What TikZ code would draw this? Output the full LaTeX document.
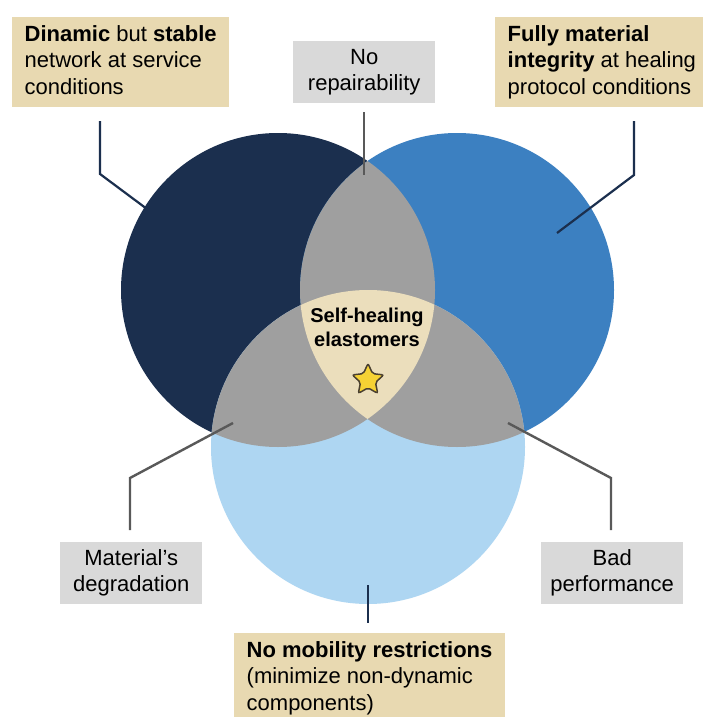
\documentclass[tikz,border=0pt]{standalone}
\usepackage{fontspec}
\setmainfont{Liberation Sans}
\usetikzlibrary{shapes.geometric}
\definecolor{navy}{HTML}{1B2F4E}
\definecolor{midblue}{HTML}{3C80C1}
\definecolor{lightblue}{HTML}{AED6F2}
\definecolor{overlap}{HTML}{9F9F9F}
\definecolor{tanc}{HTML}{E8D9B1}
\definecolor{centertan}{HTML}{EBDEBC}
\definecolor{boxgray}{HTML}{D9D9D9}
\definecolor{linegray}{HTML}{595959}
\definecolor{staryellow}{HTML}{F6D234}
\definecolor{staredge}{HTML}{4A4030}
\newcommand\bigtxt{\fontsize{22}{26.5}\selectfont}
\newcommand\midtxt{\fontsize{20}{24}\selectfont}
\tikzset{
  tanbox/.style={fill=tanc, anchor=north west, align=left, inner xsep=12.5pt, inner ysep=0pt, minimum height=90pt, font=\bigtxt, text=black},
  graybox/.style={fill=boxgray, anchor=north west, align=center, minimum width=142pt, minimum height=62pt, inner sep=0pt, font=\bigtxt, text=black},
  navyline/.style={draw=navy, line width=2.2pt},
  grayline/.style={draw=linegray, line width=2.4pt},
}
\begin{document}
\begin{tikzpicture}[x=1pt,y=-1pt]
\useasboundingbox (0,0) rectangle (703,717);
\fill[white] (0,0) rectangle (703,717);
% circle centres
\coordinate (cA) at (278,290);
\coordinate (cB) at (457,290);
\coordinate (cC) at (368,447);
\def\R{157pt}
\fill[navy] (cA) circle[radius=\R];
\fill[midblue] (cB) circle[radius=\R];
\fill[lightblue] (cC) circle[radius=\R];
% pairwise overlaps
\begin{scope}
  \clip (cA) circle[radius=\R];
  \fill[overlap] (cB) circle[radius=\R];
\end{scope}
\begin{scope}
  \clip (cA) circle[radius=\R];
  \fill[overlap] (cC) circle[radius=\R];
\end{scope}
\begin{scope}
  \clip (cB) circle[radius=\R];
  \fill[overlap] (cC) circle[radius=\R];
\end{scope}
% triple overlap
\begin{scope}
  \clip (cA) circle[radius=\R];
  \clip (cB) circle[radius=\R];
  \fill[centertan] (cC) circle[radius=\R];
\end{scope}

% label boxes
\node[tanbox] (tl) at (12,17) {\strut\textbf{Dinamic} but \textbf{stable}\\\strut network at service\\\strut conditions};
\node[tanbox] (tr) at (495,17) {\strut\textbf{Fully material}\\\strut\textbf{integrity} at healing\\\strut protocol conditions};
\node[tanbox] (bt) at (234,633) {\strut\textbf{No mobility restrictions}\\\strut(minimize non-dynamic\\\strut components)};
\node[graybox] (nr) at (293,41) {\strut No\\\strut repairability};
\node[graybox] (md) at (60,542) {\strut Material’s\\\strut degradation};
\node[graybox] (bp) at (541,542) {\strut Bad\\\strut performance};

% centre
\node[font=\midtxt\bfseries, align=center, inner sep=0pt, text=black] (sh) at (367,330) {\strut Self-healing\\\strut elastomers};
\node[star, star points=5, star point ratio=2.1, minimum size=33pt, inner sep=0pt, fill=staryellow, draw=staredge, line width=1.5pt, rounded corners=2pt] (st) at (368,380) {};

% connectors
\coordinate (tlA) at (100,121); \coordinate (tlB) at (100,174); \coordinate (tlC) at (147,209);
\draw[navyline] (tlA) -- (tlB) -- (tlC);
\coordinate (trA) at (634,121); \coordinate (trB) at (634,175); \coordinate (trC) at (557,233);
\draw[navyline] (trA) -- (trB) -- (trC);
\coordinate (nrA) at (364,112); \coordinate (nrB) at (364,175);
\draw[grayline] (nrA) -- (nrB);
\coordinate (mdA) at (130,530); \coordinate (mdB) at (130,478); \coordinate (mdC) at (233,423);
\draw[grayline] (mdA) -- (mdB) -- (mdC);
\coordinate (bpA) at (611,530); \coordinate (bpB) at (611,478); \coordinate (bpC) at (508,423);
\draw[grayline] (bpA) -- (bpB) -- (bpC);
\coordinate (btA) at (368,585); \coordinate (btB) at (368,623);
\draw[navyline] (btA) -- (btB);
\end{tikzpicture}
\end{document}
